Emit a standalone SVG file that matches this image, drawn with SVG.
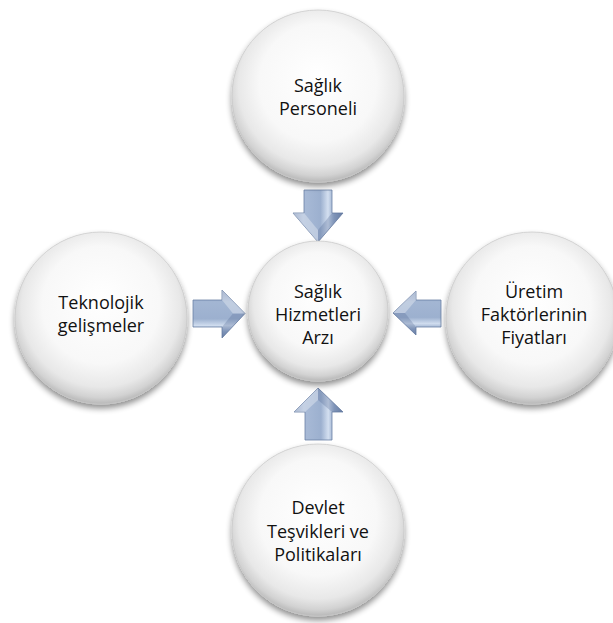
<svg xmlns="http://www.w3.org/2000/svg" width="613" height="623" viewBox="0 0 613 623">
<defs>
<radialGradient id="ball" cx="50%" cy="45%" r="55%" fx="50%" fy="38%">
<stop offset="0" stop-color="#ffffff"/>
<stop offset="0.62" stop-color="#f8f8f8"/>
<stop offset="0.84" stop-color="#e8e8e8"/>
<stop offset="0.94" stop-color="#d2d2d2"/>
<stop offset="1" stop-color="#b8b8b8"/>
</radialGradient>
<filter id="sh" x="-20%" y="-20%" width="140%" height="150%">
<feGaussianBlur in="SourceAlpha" stdDeviation="3"/>
<feOffset dx="0" dy="4" result="b"/>
<feComponentTransfer><feFuncA type="linear" slope="0.45"/></feComponentTransfer>
<feMerge><feMergeNode/><feMergeNode in="SourceGraphic"/></feMerge>
</filter>
<linearGradient id="gv" x1="0" y1="0" x2="1" y2="0">
<stop offset="0" stop-color="#8599bc"/>
<stop offset="0.2" stop-color="#a9bbd7"/>
<stop offset="0.55" stop-color="#9cb0cf"/>
<stop offset="0.7" stop-color="#d3dff0"/>
<stop offset="0.82" stop-color="#93a8c9"/>
<stop offset="1" stop-color="#7186ab"/>
</linearGradient>
<linearGradient id="gh" x1="0" y1="0" x2="0" y2="1">
<stop offset="0" stop-color="#8599bc"/>
<stop offset="0.25" stop-color="#a3b6d3"/>
<stop offset="0.6" stop-color="#9cb0cf"/>
<stop offset="0.74" stop-color="#cfdcee"/>
<stop offset="0.86" stop-color="#93a8c9"/>
<stop offset="1" stop-color="#7186ab"/>
</linearGradient>
<style>
.node circle{fill:url(#ball);stroke:#c6c6c6;stroke-width:0.7;filter:url(#sh)}
.node text{font-family:"Open Sans","Noto Sans","DejaVu Sans",sans-serif;font-size:18px;fill:#111;text-anchor:middle}
.arr{stroke:#6b80a4;stroke-width:0.8;stroke-linejoin:miter}
.v{fill:url(#gv)}
.h{fill:url(#gh)}
.facet{fill:#4e6590;opacity:0.28}
.lite{fill:#ffffff;opacity:0.32}
</style>
</defs>
<rect width="613" height="623" fill="#ffffff"/>

<g id="connectors">
<g id="arrow-top">
<path class="arr v" d="M304,190 H332 V213 H343 L318,242 L293,213 H304 Z"/>
<path class="facet" d="M318,242 L343,213 H332 L318,230 Z"/>
<path class="lite" d="M293,213 H304 L318,230 V242 Z"/>
</g>
<g id="arrow-left">
<path class="arr h" d="M193,300 H222 V290 L245,313.5 L222,338 V327 H193 Z"/>
<path class="facet" d="M245,313.5 L222,338 V327 L233,313.5 Z"/>
<path class="lite" d="M222,290 L245,313.5 H233 L222,300 Z"/>
</g>
<g id="arrow-right">
<path class="arr h" d="M441,300 H416 V291 L393,313 L416,335 V327 H441 Z"/>
<path class="facet" d="M393,313 L416,335 V327 L405,313 Z"/>
<path class="lite" d="M416,291 L393,313 H405 L416,300 Z"/>
</g>
<g id="arrow-bottom">
<path class="arr v" d="M305,440 H332 V412 H343 L318,388 L294,412 H305 Z"/>
<path class="facet" d="M318,388 L343,412 H332 L318,400 Z"/>
<path class="lite" d="M294,412 H305 L318,400 V388 Z"/>
</g>
</g>

<g id="node-top" class="node">
<circle cx="318" cy="96" r="86"/>
<text x="318" y="92">Sağlık</text>
<text x="318" y="115">Personeli</text>
</g>
<g id="node-left" class="node">
<circle cx="101" cy="318" r="86"/>
<text x="101" y="309">Teknolojik</text>
<text x="101" y="332">gelişmeler</text>
</g>
<g id="node-right" class="node">
<circle cx="532" cy="318" r="86"/>
<text x="534" y="298">Üretim</text>
<text x="534" y="321">Faktörlerinin</text>
<text x="534" y="344">Fiyatları</text>
</g>
<g id="node-bottom" class="node">
<circle cx="318" cy="530" r="86"/>
<text x="318" y="514">Devlet</text>
<text x="318" y="538">Teşvikleri ve</text>
<text x="318" y="561">Politikaları</text>
</g>
<g id="node-center" class="node">
<circle cx="318" cy="311" r="70"/>
<text x="318" y="298">Sağlık</text>
<text x="318" y="321">Hizmetleri</text>
<text x="318" y="344">Arzı</text>
</g>
</svg>
